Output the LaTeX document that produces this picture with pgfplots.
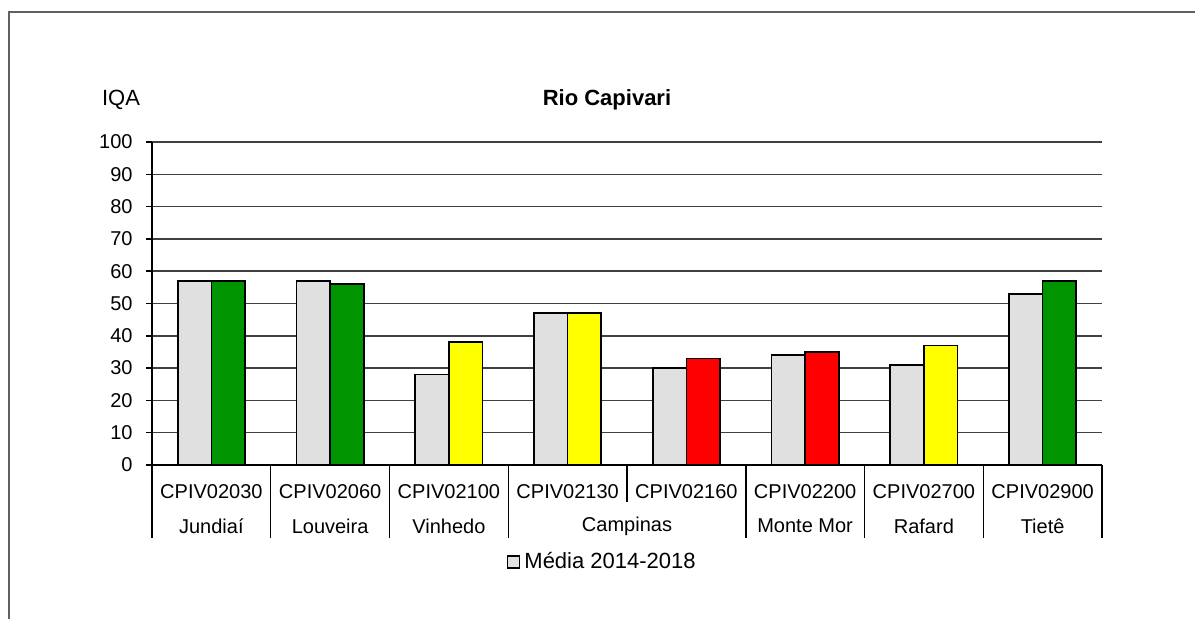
\documentclass[border=0pt]{standalone}
\usepackage{pgfplots}
\pgfplotsset{compat=1.18}
\usepackage{fontspec}
\setmainfont{Liberation Sans}
\definecolor{barGray}{HTML}{E0E0E0}
\definecolor{barGreen}{HTML}{009400}
\definecolor{barYellow}{HTML}{FFFF00}
\definecolor{barRed}{HTML}{FF0000}
\definecolor{frameGray}{HTML}{606060}
\definecolor{gridGray}{HTML}{404040}
\begin{document}
\begin{tikzpicture}
\useasboundingbox (-76pt,-77pt) rectangle (521.5pt,232.5pt);
\draw[frameGray, line width=0.75pt] (-71.5pt,-80pt) -- (-71.5pt,226.5pt) -- (530pt,226.5pt);
\begin{axis}[
  at={(0pt,0pt)}, anchor=south west,
  scale only axis, width=475pt, height=161.5pt,
  xmin=-0.5, xmax=7.5, ymin=0, ymax=100,
  axis lines=left, axis line style={-, black, line width=0.75pt},
  ytick={0,10,...,100},
  xtick={0,...,7},
  xticklabels={CPIV02030,CPIV02060,CPIV02100,CPIV02130,CPIV02160,CPIV02200,CPIV02700,CPIV02900},
  ymajorgrids, grid style={gridGray, line width=0.75pt},
  tick align=outside, major tick length=3pt,
  x tick style={draw=none},
  y tick style={black, line width=0.75pt},
  tick label style={font=\fontsize{10}{12}\selectfont},
  xticklabel style={anchor=center, yshift=-10.5pt},
  yticklabel style={anchor=east, inner sep=0pt, xshift=-6.5pt},
  /pgf/number format/assume math mode=true,
  clip=false,
  legend style={at={(0.475,-0.3)}, anchor=center, draw=none, fill=none,
    font=\fontsize{11}{13}\selectfont, inner sep=0pt,
    /tikz/every even column/.append style={column sep=2pt}},
  legend image code/.code={\draw[#1, line width=0.8pt] (0pt,-3pt) rectangle (6pt,3pt);},
]
\addplot[ybar, bar width=0.283, bar shift=-0.1415, fill=barGray, draw=black, line width=0.8pt]
  coordinates {(0,57)(1,57)(2,28)(3,47)(4,30)(5,34)(6,31)(7,53)};
\addlegendentry{Média 2014-2018}
\addplot[ybar, bar width=0.283, bar shift=0.1415, fill=barGreen, draw=black, line width=0.8pt, forget plot]
  coordinates {(0,57)(1,56)(7,57)};
\addplot[ybar, bar width=0.283, bar shift=0.1415, fill=barYellow, draw=black, line width=0.8pt, forget plot]
  coordinates {(2,38)(3,47)(6,37)};
\addplot[ybar, bar width=0.283, bar shift=0.1415, fill=barRed, draw=black, line width=0.8pt, forget plot]
  coordinates {(4,33)(5,35)};
\pgfplotsinvokeforeach{-0.5,0.5,1.5,2.5,4.5,5.5,6.5,7.5}{
  \draw[black, line width=0.75pt] (axis cs:#1,0) -- ++(0pt,-36.5pt);
}
\draw[black, line width=0.75pt] (axis cs:3.5,0) -- ++(0pt,-18.5pt);
\node[font=\fontsize{10}{12}\selectfont] at ([yshift=-30.5pt]axis cs:0,0) {Jundiaí};
\node[font=\fontsize{10}{12}\selectfont] at ([yshift=-30.5pt]axis cs:1,0) {Louveira};
\node[font=\fontsize{10}{12}\selectfont] at ([yshift=-30.5pt]axis cs:2,0) {Vinhedo};
\node[font=\fontsize{10}{12}\selectfont] at ([yshift=-30.5pt]axis cs:3.5,0) {Campinas};
\node[font=\fontsize{10}{12}\selectfont] at ([yshift=-30.5pt]axis cs:5,0) {Monte Mor};
\node[font=\fontsize{10}{12}\selectfont] at ([yshift=-30.5pt]axis cs:6,0) {Rafard};
\node[font=\fontsize{10}{12}\selectfont] at ([yshift=-30.5pt]axis cs:7,0) {Tietê};
\end{axis}
\node[font=\fontsize{11}{13}\selectfont\bfseries] at (227.5pt,182.5pt) {Rio Capivari};
\node[font=\fontsize{11}{13}\selectfont] at (-15.5pt,182.5pt) {IQA};
\end{tikzpicture}
\end{document}
